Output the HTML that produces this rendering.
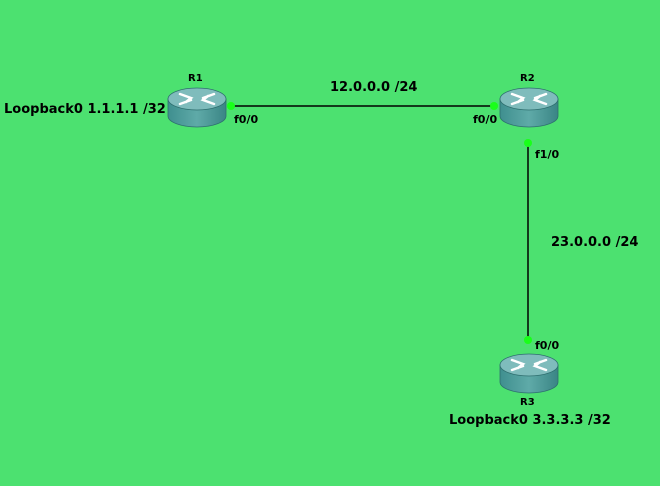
<!DOCTYPE html>
<html><head><style>
body{margin:0;width:660px;height:481px;background:#4ce170;overflow:hidden}
svg text{font-family:"DejaVu Sans","Liberation Sans",sans-serif;font-weight:bold;fill:#000}
</style></head><body>
<svg width="660" height="481" viewBox="0 0 660 481">
<defs>
<linearGradient id="b" x1="0" x2="1"><stop offset="0" stop-color="#3f8f8f"/><stop offset=".5" stop-color="#5faaa8"/><stop offset="1" stop-color="#3a8585"/></linearGradient>
<g id="r">
<path d="M-29,0 L-29,17 A29,11 0 0 0 29,17 L29,0 Z" fill="url(#b)" stroke="#2e6f6f" stroke-width="0.8"/>
<ellipse cx="0" cy="0" rx="29" ry="11" fill="#7fbcbc" stroke="#2e6f6f" stroke-width="0.8"/>
<g stroke="#fff" stroke-width="2.5" fill="none" stroke-linecap="round">
<path d="M-17,-5 L-6,-1 L-11,3 M-17,5 L-6,1 M17,-5 L6,-1 M17,5 L6,1 L11,-3"/>
</g>
</g>
</defs>
<line x1="231" y1="106" x2="494" y2="106" stroke="#000" stroke-width="1.5"/>
<line x1="528" y1="143" x2="528" y2="340" stroke="#000" stroke-width="1.5"/>
<use href="#r" x="197" y="99"/>
<use href="#r" x="529" y="99"/>
<use href="#r" x="529" y="365"/>
<g fill="#1aff1a"><circle cx="231" cy="106" r="4"/><circle cx="494" cy="106" r="4"/><circle cx="528" cy="143" r="4"/><circle cx="528" cy="340" r="4"/></g>
<g font-size="10"><text x="188" y="81">R1</text><text x="520" y="81">R2</text><text x="520" y="405">R3</text></g>
<g font-size="11"><text x="234" y="123">f0/0</text><text x="473" y="123">f0/0</text><text x="535" y="158">f1/0</text><text x="535" y="349">f0/0</text></g>
<g font-size="13"><text x="4" y="113">Loopback0 1.1.1.1 /32</text><text x="330" y="91">12.0.0.0 /24</text><text x="551" y="246">23.0.0.0 /24</text><text x="449" y="424">Loopback0 3.3.3.3 /32</text></g>
</svg>
</body></html>
